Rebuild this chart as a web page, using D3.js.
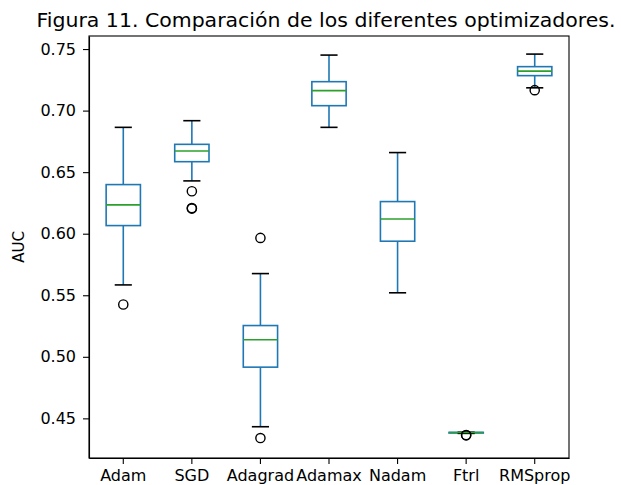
<!DOCTYPE html>
<html>
<head>
<meta charset="utf-8">
<script src="https://cdn.jsdelivr.net/npm/d3@7"></script>
<style>
  body { margin: 0; background: #fff; }
  text { font-family: "DejaVu Sans", sans-serif; fill: #000; }
  .axis path, .axis line { stroke: #000; stroke-width: 1.1; }
  .axis text { font-size: 16px; }
</style>
</head>
<body>
<div id="chart"></div>
<script>
// box statistics
var optimizers = ["Adam", "SGD", "Adagrad", "Adamax", "Nadam", "Ftrl", "RMSprop"];
var whiskerHigh = [0.6864, 0.6918, 0.5676, 0.7451, 0.6659, 0.4387, 0.7459];
var q3 = [0.6399, 0.6726, 0.5254, 0.7235, 0.6261, 0.4386, 0.7357];
var medians = [0.6234, 0.6672, 0.5138, 0.7162, 0.6120, 0.4385, 0.7321];
var q1 = [0.6066, 0.6585, 0.4916, 0.7040, 0.5939, 0.4381, 0.7284];
var whiskerLow = [0.5584, 0.6429, 0.4432, 0.6864, 0.5520, 0.4378, 0.7185];
var outliers = [
    [0.5425],
    [0.6345, 0.6209, 0.6204],
    [0.5966, 0.4340],
    [],
    [],
    [0.4362, 0.4365],
    [0.7166]
];
var yTicks = [0.45, 0.50, 0.55, 0.60, 0.65, 0.70, 0.75];

function init() {
    var margin = {top: 36, right: 52, bottom: 27, left: 89},
        w = 621 - margin.left - margin.right,
        h = 485 - margin.top - margin.bottom;

    var x = d3.scaleBand().domain(optimizers).range([0, w]).padding(0),
        y = d3.scaleLinear().domain([0.4178, 0.7606]).range([h, 0]);

    var bw = x.bandwidth(),
        boxW = bw * 0.5,
        capW = bw * 0.25;

    var data = optimizers.map(function(name, i) {
        return {name: name, hi: whiskerHigh[i], q3: q3[i], med: medians[i],
                q1: q1[i], lo: whiskerLow[i], out: outliers[i]};
    });

    var svg = d3.select("#chart").append("svg")
        .attr("width", 621)
        .attr("height", 485);

    var g = svg.append("g")
        .attr("transform", "translate(" + margin.left + "," + margin.top + ")");

    var box = g.selectAll(".box")
        .data(data)
        .enter().append("g")
        .attr("class", "box")
        .attr("transform", function(d) { return "translate(" + (x(d.name) + bw / 2) + ",0)"; });

    // whiskers
    box.append("line")
        .attr("x1", 0).attr("x2", 0)
        .attr("y1", function(d) { return y(d.hi); })
        .attr("y2", function(d) { return y(d.q3); })
        .attr("stroke", "#1f77b4").attr("stroke-width", 1.6);
    box.append("line")
        .attr("x1", 0).attr("x2", 0)
        .attr("y1", function(d) { return y(d.q1); })
        .attr("y2", function(d) { return y(d.lo); })
        .attr("stroke", "#1f77b4").attr("stroke-width", 1.6);

    // box
    box.append("rect")
        .attr("x", -boxW / 2)
        .attr("width", boxW)
        .attr("y", function(d) { return y(d.q3); })
        .attr("height", function(d) { return Math.max(0.1, y(d.q1) - y(d.q3)); })
        .attr("fill", "none")
        .attr("stroke", "#1f77b4").attr("stroke-width", 1.6);

    // caps
    ["hi", "lo"].forEach(function(k) {
        box.append("line")
            .attr("x1", -capW / 2).attr("x2", capW / 2)
            .attr("y1", function(d) { return y(d[k]); })
            .attr("y2", function(d) { return y(d[k]); })
            .attr("stroke", "#000").attr("stroke-width", 1.6);
    });

    // median
    box.append("line")
        .attr("x1", -boxW / 2).attr("x2", boxW / 2)
        .attr("y1", function(d) { return y(d.med); })
        .attr("y2", function(d) { return y(d.med); })
        .attr("stroke", "#2ca02c").attr("stroke-width", 1.6);

    // fliers
    box.selectAll("circle")
        .data(function(d) { return d.out; })
        .enter().append("circle")
        .attr("cx", 0)
        .attr("cy", function(v) { return y(v); })
        .attr("r", 4.6)
        .attr("fill", "none")
        .attr("stroke", "#000").attr("stroke-width", 1.4);

    g.append("g")
        .attr("class", "x axis")
        .attr("transform", "translate(0," + h + ")")
        .call(d3.axisBottom(x).tickSize(6).tickPadding(6).tickSizeOuter(0));

    g.append("g")
        .attr("class", "y axis")
        .call(d3.axisLeft(y).tickValues(yTicks).tickFormat(d3.format(".2f"))
              .tickSize(6).tickPadding(7).tickSizeOuter(0));

    // frame
    g.append("rect")
        .attr("width", w).attr("height", h)
        .attr("fill", "none")
        .attr("stroke", "#000").attr("stroke-width", 1.1);

    svg.append("text")
        .attr("x", 326)
        .attr("y", 27)
        .attr("text-anchor", "middle")
        .attr("textLength", 579)
        .attr("lengthAdjust", "spacingAndGlyphs")
        .style("font-size", "19.5px")
        .text("Figura 11. Comparación de los diferentes optimizadores.");

    svg.append("text")
        .attr("transform", "translate(24," + (margin.top + 211) + ") rotate(-90)")
        .attr("text-anchor", "middle")
        .style("font-size", "15px")
        .text("AUC");
}
init();
</script>
</body>
</html>
